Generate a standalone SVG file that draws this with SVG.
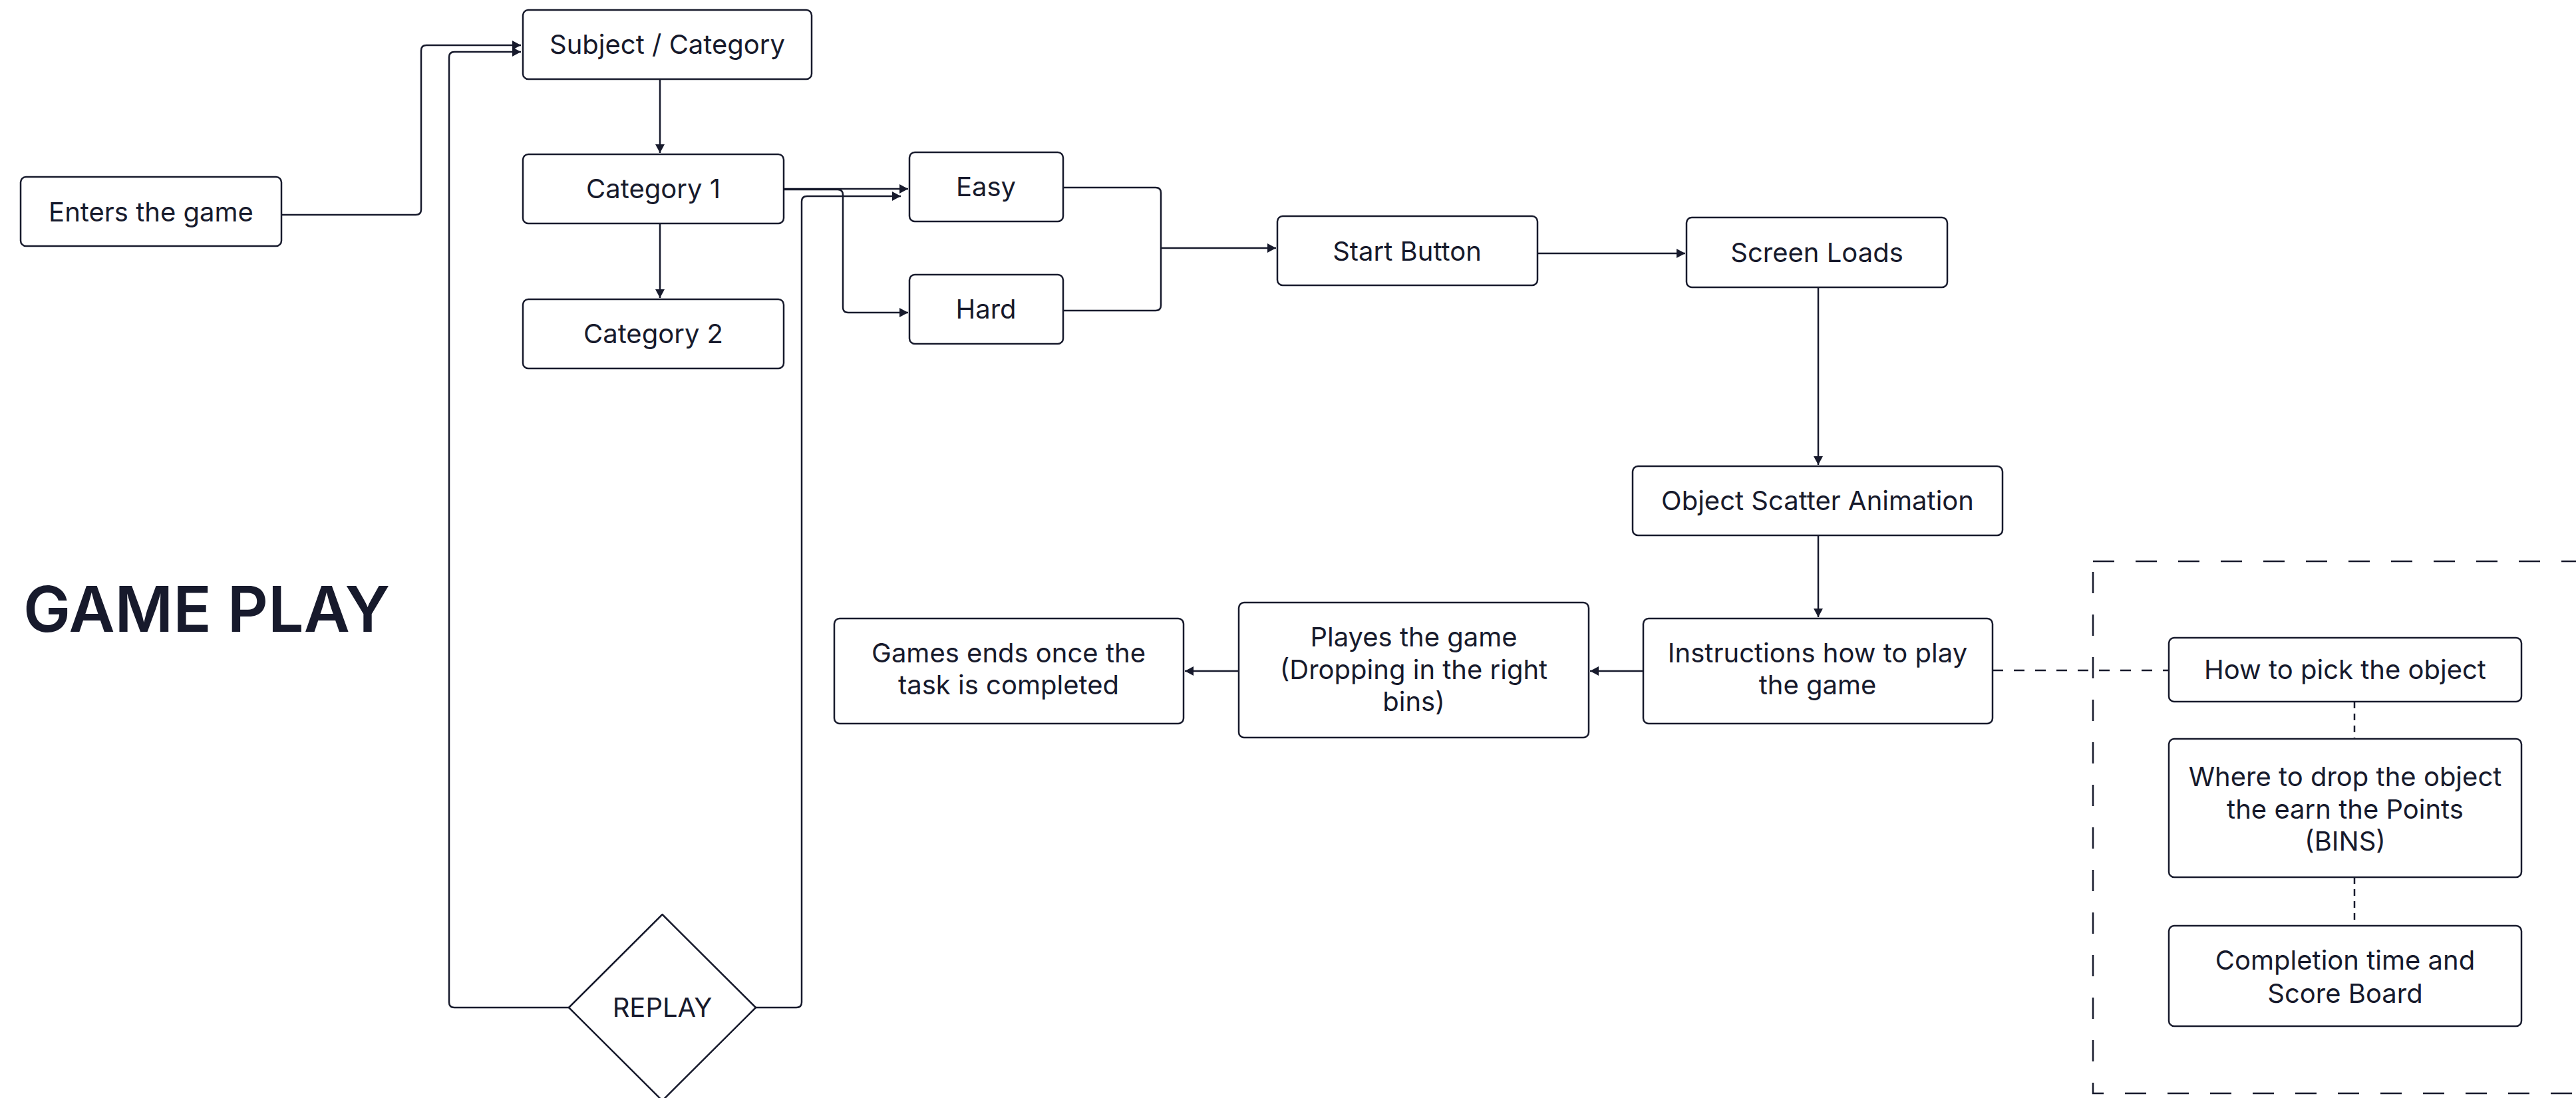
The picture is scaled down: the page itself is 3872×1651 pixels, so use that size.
<svg xmlns="http://www.w3.org/2000/svg" width="3872" height="1651" viewBox="0 0 3872 1651">
<style>
.box{fill:#ffffff;stroke:#171a2c;stroke-width:2.5}
.t{font-family:Inter,"Liberation Sans",sans-serif;font-size:40px;fill:#171a2c;text-anchor:middle}
.ln{fill:none;stroke:#171a2c;stroke-width:2.5;stroke-linejoin:round}
.dash{fill:none;stroke:#171a2c;stroke-width:2.5;stroke-dasharray:16 16}
.dot{fill:none;stroke:#171a2c;stroke-width:2.5;stroke-dasharray:10 8}
.grp{fill:none;stroke:#171a2c;stroke-width:2.5;stroke-dasharray:32 32}
</style>
<defs>
<marker id="ah" markerWidth="13" markerHeight="14" refX="13" refY="7" orient="auto" markerUnits="userSpaceOnUse">
<path d="M0,0 L13,7 L0,14 Z" fill="#171a2c"/>
</marker>
</defs>
<rect width="3872" height="1651" fill="#ffffff"/>
<text x="35" y="950" font-family="Inter,'Liberation Sans',sans-serif" font-size="95" font-weight="600" fill="#171a2c">GAME PLAY</text>
<rect class="grp" x="3146" y="844" width="760" height="800"/>
<g id="connectors">
<path class="ln" d="M423,323 H625 Q633,323 633,315 V76 Q633,68 641,68 H783" marker-end="url(#ah)"/>
<path class="ln" d="M855,1515 H683 Q675,1515 675,1507 V86 Q675,78 683,78 H783" marker-end="url(#ah)"/>
<path class="ln" d="M992,119 V230" marker-end="url(#ah)"/>
<path class="ln" d="M992,336 V448" marker-end="url(#ah)"/>
<path class="ln" d="M1178,284 H1365" marker-end="url(#ah)"/>
<path class="ln" d="M1178,285 H1259 Q1267,285 1267,293 V462 Q1267,470 1275,470 H1365" marker-end="url(#ah)"/>
<path class="ln" d="M1136,1515 H1197 Q1205,1515 1205,1507 V303 Q1205,295 1213,295 H1354" marker-end="url(#ah)"/>
<path class="ln" d="M1598,282 H1737 Q1745,282 1745,290 V459 Q1745,467 1737,467 H1598"/>
<path class="ln" d="M1745,373 H1918" marker-end="url(#ah)"/>
<path class="ln" d="M2311,381 H2533" marker-end="url(#ah)"/>
<path class="ln" d="M2733,432 V699" marker-end="url(#ah)"/>
<path class="ln" d="M2733,805 V928" marker-end="url(#ah)"/>
<path class="ln" d="M2470,1009 H2390" marker-end="url(#ah)"/>
<path class="ln" d="M1862,1009 H1781" marker-end="url(#ah)"/>
<path class="dash" d="M2995,1008 H3260"/>
<path class="dot" d="M3539,1055 V1111"/>
<path class="dot" d="M3539,1319 V1392"/>
</g>
<g id="enters"><rect class="box" x="31" y="266" width="392" height="104" rx="8"/><text class="t" x="227" y="333">Enters the game</text></g>
<g id="subject"><rect class="box" x="786" y="15" width="434" height="104" rx="8"/><text class="t" x="1003" y="81">Subject / Category</text></g>
<g id="cat1"><rect class="box" x="786" y="232" width="392" height="104" rx="8"/><text class="t" x="982" y="298">Category 1</text></g>
<g id="cat2"><rect class="box" x="786" y="450" width="392" height="104" rx="8"/><text class="t" x="982" y="516">Category 2</text></g>
<g id="easy"><rect class="box" x="1367" y="229" width="231" height="104" rx="8"/><text class="t" x="1482" y="295">Easy</text></g>
<g id="hard"><rect class="box" x="1367" y="413" width="231" height="104" rx="8"/><text class="t" x="1482" y="479">Hard</text></g>
<g id="start"><rect class="box" x="1920" y="325" width="391" height="104" rx="8"/><text class="t" x="2115" y="392">Start Button</text></g>
<g id="screen"><rect class="box" x="2535" y="327" width="392" height="105" rx="8"/><text class="t" x="2731" y="394">Screen Loads</text></g>
<g id="scatter"><rect class="box" x="2454" y="701" width="556" height="104" rx="8"/><text class="t" x="2732" y="767">Object Scatter Animation</text></g>
<g id="instructions"><rect class="box" x="2470" y="930" width="525" height="158" rx="8"/><text class="t" x="2732" y="996">Instructions how to play</text><text class="t" x="2732" y="1044">the game</text></g>
<g id="plays"><rect class="box" x="1862" y="906" width="526" height="203" rx="8"/><text class="t" x="2125" y="972">Playes the game</text><text class="t" x="2125" y="1021">(Dropping in the right</text><text class="t" x="2125" y="1069">bins)</text></g>
<g id="ends"><rect class="box" x="1254" y="930" width="525" height="158" rx="8"/><text class="t" x="1516" y="996">Games ends once the</text><text class="t" x="1516" y="1044">task is completed</text></g>
<g id="pick"><rect class="box" x="3260" y="959" width="530" height="96" rx="8"/><text class="t" x="3525" y="1021">How to pick the object</text></g>
<g id="drop"><rect class="box" x="3260" y="1111" width="530" height="208" rx="8"/><text class="t" x="3525" y="1182">Where to drop the object</text><text class="t" x="3525" y="1231">the earn the Points</text><text class="t" x="3525" y="1279">(BINS)</text></g>
<g id="completion"><rect class="box" x="3260" y="1392" width="530" height="151" rx="8"/><text class="t" x="3525" y="1458">Completion time and</text><text class="t" x="3525" y="1508">Score Board</text></g>
<g id="replay"><path class="box" stroke-linejoin="round" d="M995.5,1375 L1136,1515 L995.5,1655 L855,1515 Z"/><text class="t" x="995.5" y="1529">REPLAY</text></g>
</svg>
